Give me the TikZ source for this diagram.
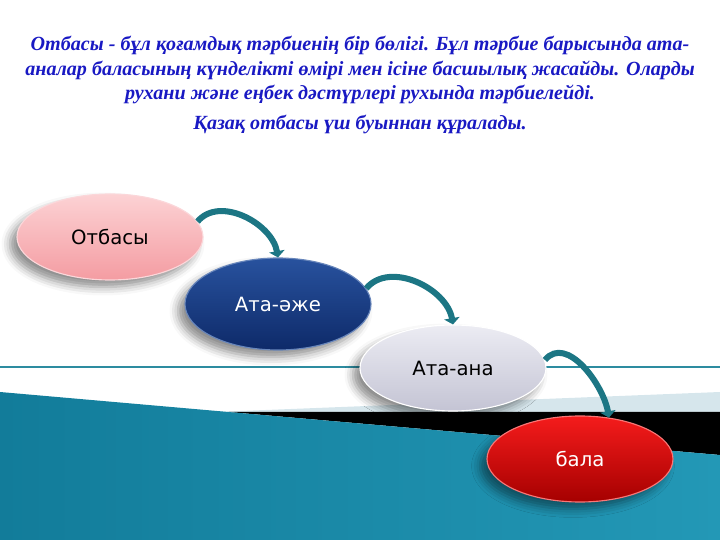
\documentclass[tikz,border=0pt]{standalone}
\usepackage{fontspec}
\setmainfont{Liberation Serif}
\newfontfamily\labelfont{DejaVu Sans}
\definecolor{titleblue}{RGB}{25, 25, 195}
\definecolor{linkteal}{RGB}{28, 118, 132}
\definecolor{tealdark}{RGB}{18, 124, 154}
\definecolor{tealmid}{RGB}{35, 152, 182}
\definecolor{teallight}{RGB}{78, 186, 212}
\definecolor{paleblue}{RGB}{214, 230, 236}
\definecolor{rulecol}{RGB}{45, 140, 160}
\definecolor{pinktop}{RGB}{252, 210, 212}
\definecolor{pinkbot}{RGB}{244, 156, 162}
\definecolor{navytop}{RGB}{40, 82, 158}
\definecolor{navybot}{RGB}{14, 42, 105}
\definecolor{greytop}{RGB}{236, 236, 243}
\definecolor{greybot}{RGB}{196, 196, 212}
\definecolor{redtop}{RGB}{245, 28, 28}
\definecolor{redbot}{RGB}{165, 0, 0}
\usetikzlibrary{shapes, arrows.meta, shadows.blur}

\begin{document}
\begin{tikzpicture}[
  oval/.style={ellipse, minimum width=4.65cm, minimum height=2.15cm, line width=0.8pt,
    font=\labelfont\fontsize{14}{16}\selectfont,
    blur shadow={shadow xshift=-5pt, shadow yshift=-5pt, shadow blur radius=6pt, shadow opacity=45}},
  link/.style={-{Triangle[width=11pt, length=4.5pt]}, line width=4.3pt, linkteal}
]
  \useasboundingbox (0, 0) rectangle (18, 13.5);

  % Background
  \draw[rulecol, line width=0.8pt] (0, 4.325) -- (18, 4.325);
  \fill[paleblue] (4.75, 3.175) -- (18, 3.7) -- (18, 3.2) -- (5.725, 3.2) -- cycle;
  \fill[black] (5.725, 3.2) -- (18, 3.2) -- (18, 2.125) -- cycle;
  \shade[left color=tealdark, middle color=teallight, right color=tealmid] (0, 3.7) -- (18, 2.125) -- (18, 0) -- (0, 0) -- cycle;

  % Text
  \node[font=\bfseries\itshape\fontsize{14.3}{17.5}\selectfont, text=titleblue, align=center] (intro) at (9, 11.75) {Отбасы - бұл қоғамдық тәрбиенің бір бөлігі. Бұл тәрбие барысында ата-\\аналар баласының күнделікті өмірі мен ісіне басшылық жасайды. Оларды\\рухани және еңбек дәстүрлері рухында тәрбиелейді.};
  \node[font=\bfseries\itshape\fontsize{14.3}{17.5}\selectfont, text=titleblue] (three) at (9, 10.4) {Қазақ отбасы үш буыннан құралады.};

  % Generations
  \node[oval, draw=white!60!pinkbot, top color=pinktop, bottom color=pinkbot, text=black] (otbasy) at (2.75, 7.575) {Отбасы};
  \node[oval, draw=navytop!70!white, top color=navytop, bottom color=navybot, text=white, minimum height=2.3cm] (ataazhe) at (6.95, 5.9) {Ата-әже};
  \node[oval, draw=white, top color=greytop, bottom color=greybot, text=black] (ataana) at (11.325, 4.3) {Ата-ана};
  \node[oval, draw=redtop!60!white, top color=redtop, bottom color=redbot, text=white] (bala) at (14.5, 2.025) {бала};

  % Links
  \draw[link] (otbasy.10) to[out=50, in=100] (ataazhe.north);
  \draw[link] (ataazhe.10) to[out=50, in=100] (ataana.north);
  \draw[link] (ataana.5) to[out=50, in=100] (bala.55);
\end{tikzpicture}
\end{document}
